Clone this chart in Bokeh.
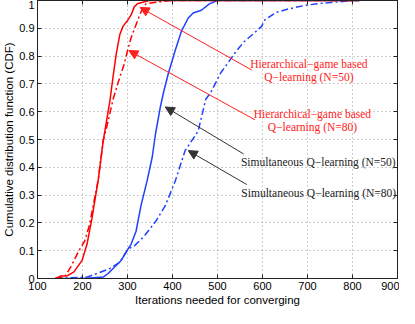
from bokeh.plotting import figure
from bokeh.models import (Range1d, LinearAxis, FixedTicker, Arrow, NormalHead, Label,
                          CustomJSTickFormatter)
from bokeh.embed import file_html
from bokeh.resources import INLINE

# ---- data ----
x_ticks = [100, 200, 300, 400, 500, 600, 700, 800, 900]
y_ticks = [0, 0.1, 0.2, 0.3, 0.4, 0.5, 0.6, 0.7, 0.8, 0.9, 1]
y_tick_labels = ["0", "0.1", "0.2", "0.3", "0.4", "0.5", "0.6", "0.7", "0.8", "0.9", "1"]

hier50_x = [140, 152, 167, 181, 199, 210, 221, 235, 246, 261, 268, 275, 283, 290, 301, 308, 315, 322, 348, 815]
hier50_y = [0, 0.009, 0.01, 0.024, 0.065, 0.123, 0.216, 0.355, 0.495, 0.64, 0.727, 0.808, 0.878, 0.907, 0.93, 0.948, 0.977, 0.988, 1, 1]

hier80_x = [140, 160, 174, 192, 205, 215, 235, 246, 255, 268, 279, 293, 301, 308, 319, 330, 341, 370, 398, 815]
hier80_y = [0, 0.005, 0.042, 0.1, 0.135, 0.19, 0.355, 0.495, 0.553, 0.645, 0.704, 0.773, 0.826, 0.866, 0.913, 0.959, 0.988, 0.995, 1, 1]

sim50_x = [140, 200, 246, 257, 272, 286, 301, 308, 319, 330, 344, 355, 362, 373, 380, 391, 406, 420, 435, 446, 464, 482, 500, 815]
sim50_y = [0, 0, 0.005, 0.018, 0.042, 0.065, 0.106, 0.123, 0.17, 0.262, 0.355, 0.437, 0.518, 0.617, 0.669, 0.739, 0.82, 0.89, 0.937, 0.955, 0.965, 0.988, 1, 1]

sim80_x = [140, 210, 232, 261, 283, 301, 315, 337, 362, 384, 406, 428, 457, 474, 485, 507, 540, 558, 583, 598, 605, 630, 659, 696, 732, 783, 800, 815]
sim80_y = [0, 0.005, 0.018, 0.036, 0.059, 0.106, 0.117, 0.152, 0.204, 0.262, 0.35, 0.46, 0.53, 0.645, 0.669, 0.739, 0.814, 0.85, 0.885, 0.907, 0.93, 0.957, 0.97, 0.983, 0.99, 0.997, 1, 1]

# annotation texts and anchor points (data space)
ann_texts = ["Hierarchical\u2212game based\nQ\u2212learning (N=50)",
             "Hierarchical\u2212game based\nQ\u2212learning (N=80)",
             "Simultaneous Q\u2212learning (N=50)",
             "Simultaneous Q\u2212learning (N=80)"]
ann_text_x = [703, 711, 724, 725]
ann_text_y = [0.749, 0.568, 0.419, 0.309]
arrow_tail_x = [576, 583, 558, 565]
arrow_tail_y = [0.75, 0.571, 0.448, 0.338]
arrow_tip_x = [328, 303, 384, 435]
arrow_tip_y = [0.975, 0.82, 0.617, 0.46]
ann_colors = ["#ff2020", "#ff2020", "#333333", "#333333"]

SANS = "Liberation Sans"
SERIF = "Liberation Serif"

p = figure(width=399, height=308, output_backend="svg", toolbar_location=None,
           x_range=Range1d(100, 900), y_range=Range1d(0, 1),
           min_border_left=0, min_border_right=2, min_border_top=0, min_border_bottom=0,
           x_axis_label="Iterations needed for converging",
           y_axis_label="Cumulative distribution function (CDF)")
p.background_fill_color = "white"
p.border_fill_color = "white"
p.outline_line_color = "#222222"
p.outline_line_width = 1

for ax in [p.xaxis[0], p.yaxis[0]]:
    ax.major_tick_in = 4
    ax.major_tick_out = 0
    ax.minor_tick_line_color = None
    ax.axis_line_color = "#222222"
    ax.major_tick_line_color = "#222222"
    ax.major_label_text_font = SANS
    ax.major_label_text_font_size = "11px"
    ax.major_label_text_color = "black"
    ax.axis_label_text_font = SANS
    ax.axis_label_text_font_size = "11.5px"
    ax.axis_label_text_font_style = "normal"
    ax.axis_label_text_color = "black"

p.xaxis[0].ticker = FixedTicker(ticks=x_ticks)
p.yaxis[0].ticker = FixedTicker(ticks=y_ticks)
p.yaxis[0].major_label_overrides = {t: l for t, l in zip(y_ticks, y_tick_labels)}
p.xaxis[0].major_label_standoff = 3
p.xaxis[0].axis_label_standoff = 1
p.yaxis[0].major_label_standoff = 3
p.yaxis[0].axis_label_standoff = 1

# box-style inward ticks on the right and top, without labels
for loc, tk in [("right", y_ticks), ("above", x_ticks)]:
    ax = LinearAxis(ticker=FixedTicker(ticks=tk), major_tick_in=4, major_tick_out=0,
                    minor_tick_line_color=None, axis_line_color="#222222",
                    major_tick_line_color="#222222",
                    formatter=CustomJSTickFormatter(code="return ''"),
                    major_label_text_color=None, major_label_text_font_size="1px",
                    major_label_standoff=0)
    p.add_layout(ax, loc)

p.xgrid.ticker = FixedTicker(ticks=x_ticks)
p.ygrid.ticker = FixedTicker(ticks=y_ticks)
for g in [p.xgrid, p.ygrid]:
    g.grid_line_color = "#9a9a9a"
    g.grid_line_dash = "1 3"
    g.grid_line_width = 1

p.line(sim80_x, sim80_y, color="#2040ff", line_width=1.5, line_dash="7 3 2 3")
p.line(sim50_x, sim50_y, color="#2040ff", line_width=1.5)
p.line(hier80_x, hier80_y, color="#ff0000", line_width=1.5, line_dash="7 3 2 3")
p.line(hier50_x, hier50_y, color="#ff0000", line_width=1.5)

for i in range(4):
    head = NormalHead(size=9, fill_color=ann_colors[i], line_color=ann_colors[i], line_width=1)
    p.add_layout(Arrow(end=head, x_start=arrow_tail_x[i], y_start=arrow_tail_y[i],
                       x_end=arrow_tip_x[i], y_end=arrow_tip_y[i],
                       line_color=ann_colors[i], line_width=1))
    p.add_layout(Label(x=ann_text_x[i], y=ann_text_y[i], text=ann_texts[i],
                       text_font=SERIF, text_font_size="11.5px",
                       text_color=("#ff2020" if i < 2 else "#222222"),
                       text_align="center", text_baseline="middle",
                       text_line_height=1.05))

open("out.html", "w").write(file_html(p, INLINE))
